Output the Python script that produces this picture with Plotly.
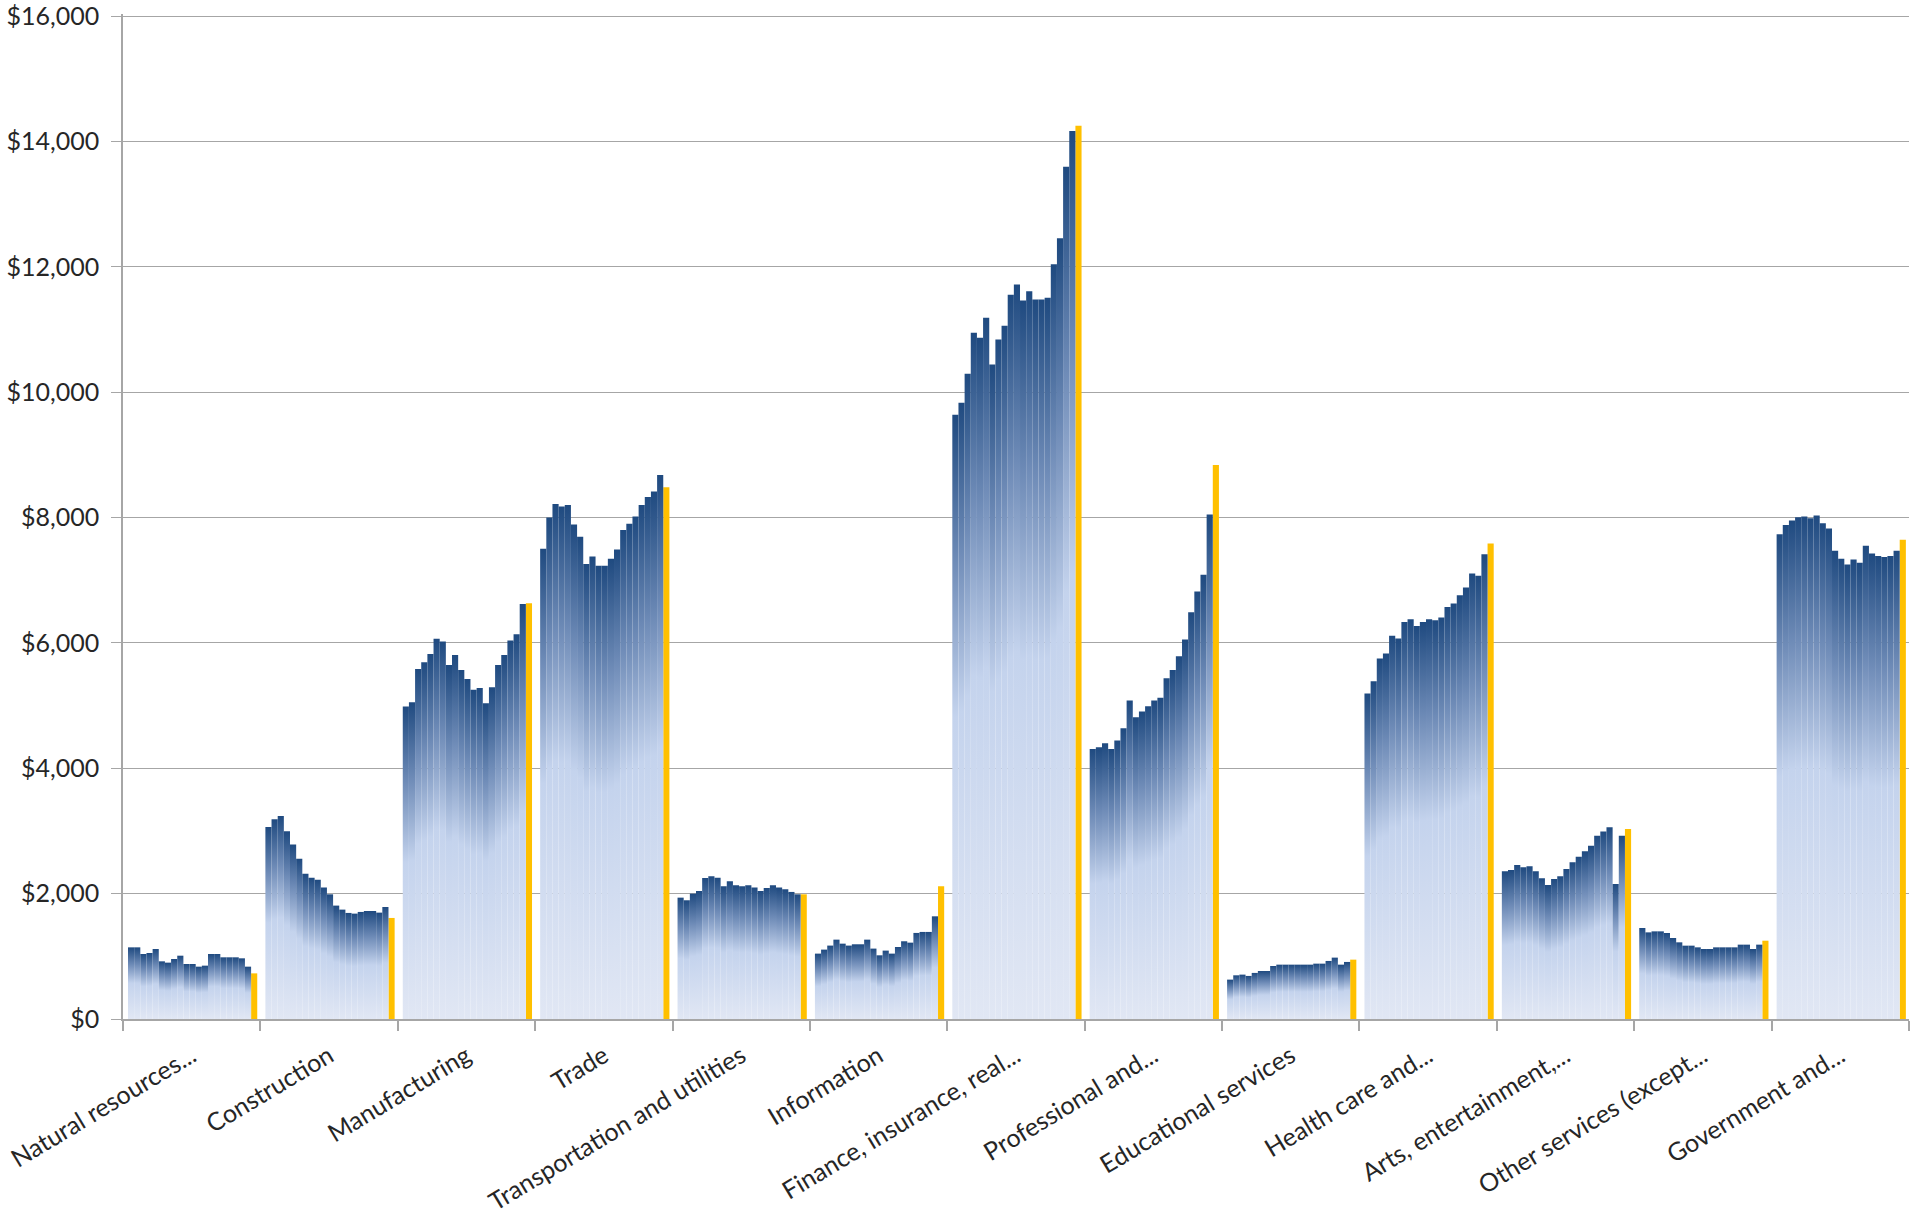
import plotly.graph_objects as go

categories = ["Natural resources...", "Construction", "Manufacturing", "Trade",
              "Transportation and utilities", "Information", "Finance, insurance, real...",
              "Professional and...", "Educational services", "Health care and...",
              "Arts, entertainment,...", "Other services (except...", "Government and..."]

natural_resources = [1143, 1143, 1037, 1053, 1117, 920, 899, 957, 1010, 877, 877, 835, 851, 1037, 1037, 984, 984, 984, 968, 835]
construction = [3063, 3186, 3239, 2994, 2782, 2558, 2319, 2255, 2223, 2096, 1989, 1809, 1745, 1692, 1681, 1708, 1723, 1723, 1697, 1787]
manufacturing = [4985, 5053, 5583, 5691, 5822, 6067, 6022, 5646, 5805, 5566, 5423, 5253, 5281, 5036, 5293, 5646, 5805, 6039, 6136, 6620]
trade = [7503, 7999, 8215, 8175, 8198, 7890, 7691, 7258, 7377, 7229, 7229, 7343, 7491, 7799, 7902, 8016, 8198, 8329, 8414, 8678]
transportation = [1936, 1894, 2000, 2043, 2250, 2277, 2255, 2117, 2197, 2133, 2117, 2133, 2096, 2043, 2090, 2133, 2096, 2069, 2027, 1989]
information = [1043, 1107, 1171, 1266, 1202, 1171, 1192, 1192, 1266, 1123, 1016, 1091, 1043, 1149, 1240, 1218, 1373, 1389, 1389, 1638]
finance = [9638, 9830, 10292, 10946, 10867, 11186, 10441, 10840, 11058, 11553, 11717, 11462, 11611, 11478, 11478, 11505, 12039, 12454, 13596, 14166]
professional = [4309, 4336, 4400, 4309, 4442, 4639, 5080, 4814, 4904, 4990, 5080, 5123, 5436, 5569, 5787, 6053, 6489, 6819, 7085, 8047]
educational = [628, 697, 708, 687, 735, 766, 766, 846, 867, 867, 867, 867, 867, 867, 883, 883, 926, 979, 867, 910]
health = [5192, 5389, 5750, 5830, 6112, 6069, 6335, 6378, 6271, 6335, 6378, 6362, 6404, 6574, 6627, 6760, 6883, 7106, 7069, 7414]
arts = [2355, 2377, 2456, 2419, 2435, 2355, 2244, 2137, 2233, 2276, 2393, 2499, 2589, 2674, 2765, 2924, 2993, 3057, 2153, 2924]
other_services = [1452, 1382, 1398, 1398, 1372, 1292, 1223, 1170, 1170, 1143, 1117, 1117, 1143, 1143, 1143, 1143, 1186, 1186, 1117, 1186]
government = [7732, 7879, 7951, 8005, 8016, 7989, 8033, 7907, 7825, 7469, 7343, 7249, 7332, 7277, 7551, 7425, 7386, 7370, 7386, 7469]
latest = [728, 1612, 6631, 8483, 1989, 2117, 14250, 8839, 947, 7584, 3031, 1249, 7644]

y_ticks = [0, 2000, 4000, 6000, 8000, 10000, 12000, 14000, 16000]

history = [natural_resources, construction, manufacturing, trade, transportation, information,
           finance, professional, educational, health, arts, other_services, government]

PAD = 0.0364   # left padding inside each category (fraction of category)
W = 0.0448     # width of one bar slot

blue_scale = [[0.0, "#E1E7F4"], [0.5, "#C4D3ED"], [0.76, "#6E8BB7"], [1.0, "#1F4A80"]]

fig = go.Figure()

for c, series in enumerate(history):
    for j, v in enumerate(series):
        x0 = c + PAD + j * W
        x1 = x0 + W
        fig.add_trace(go.Scatter(
            x=[x0, x0, x1, x1, x0], y=[0, v, v, 0, 0],
            mode="lines", line=dict(width=0), fill="toself",
            fillgradient=dict(type="vertical", colorscale=blue_scale, start=0, stop=v),
            hoverinfo="skip", showlegend=False,
        ))

fig.add_trace(go.Bar(
    x=[c + PAD + 20 * W + W / 2 for c in range(len(categories))],
    y=latest, width=W, marker=dict(color="#FFC000", line=dict(width=0)),
    showlegend=False, hoverinfo="skip",
))

grey = "#A6A6A6"
font_color = "#262626"

fig.update_layout(
    width=1911, height=1225,
    margin=dict(l=123, r=2, t=14, b=206),
    paper_bgcolor="white", plot_bgcolor="white",
    font=dict(family="Lato", size=25, color=font_color),
    showlegend=False,
    xaxis=dict(
        range=[0, len(categories)],
        tickmode="array",
        tickvals=[i + 0.5 for i in range(len(categories))],
        ticktext=categories,
        tickfont=dict(size=25),
        ticks="", tickangle=-31,
        ticklabelstandoff=11,
        ticklabeloverflow="allow",
        showgrid=False, zeroline=False,
        showline=True, linecolor=grey, linewidth=1.5,
        minor=dict(tickmode="array", tickvals=list(range(len(categories) + 1)),
                   ticks="outside", ticklen=10, tickcolor=grey, tickwidth=1.5, showgrid=False),
        automargin=False,
        fixedrange=True,
    ),
    yaxis=dict(
        range=[0, 16032],
        tickmode="array", tickvals=y_ticks,
        tickformat="$,d",
        tickfont=dict(size=25),
        ticks="outside", ticklen=10, tickcolor=grey, tickwidth=1,
        showgrid=True, gridcolor=grey, gridwidth=1,
        zeroline=False, showline=True, linecolor=grey, linewidth=1.5,
        ticklabelstandoff=7,
        ticklabeloverflow="allow",
        automargin=False,
        fixedrange=True,
    ),
)

fig.write_html("out.html", config={"displayModeBar": False},
               post_script="document.body.style.margin='0px';")
